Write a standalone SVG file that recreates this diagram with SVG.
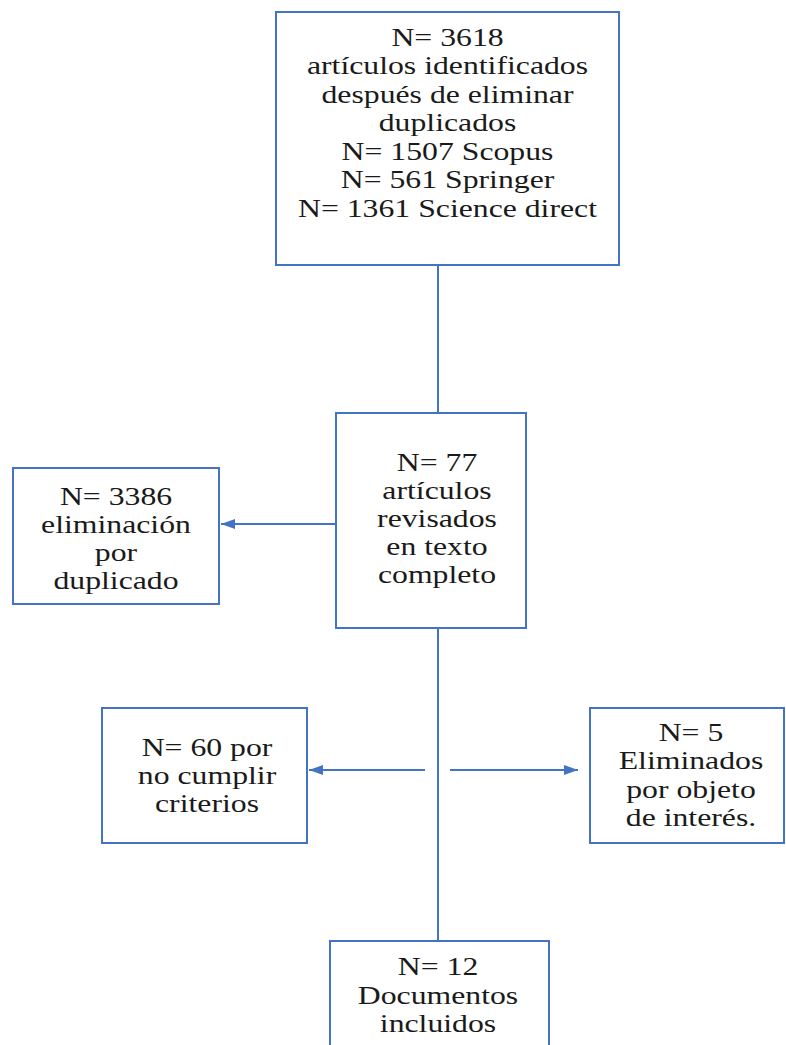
<svg xmlns="http://www.w3.org/2000/svg" width="786" height="1045" viewBox="0 0 786 1045">
<style>
.box{fill:#ffffff;stroke:#4472C4;stroke-width:2}
.con{stroke:#4472C4;stroke-width:2;fill:none}
.t{font-family:"Liberation Serif","Times New Roman",serif;font-size:25px;fill:#1a1a1a;text-anchor:middle}
</style>
<defs>
<marker id="ah" markerUnits="userSpaceOnUse" markerWidth="16" markerHeight="12" refX="14" refY="5" orient="auto">
<path d="M0,0 L14,5 L0,10 Z" fill="#4472C4"/>
</marker>
</defs>
<rect width="786" height="1045" fill="#ffffff"/>
<g id="connectors">
<line class="con" x1="438" y1="265" x2="438" y2="413"/>
<line class="con" x1="336" y1="524" x2="221" y2="524" marker-end="url(#ah)"/>
<line class="con" x1="438" y1="628" x2="438" y2="941"/>
<line class="con" x1="425" y1="770" x2="309" y2="770" marker-end="url(#ah)"/>
<line class="con" x1="450" y1="770" x2="578" y2="770" marker-end="url(#ah)"/>
</g>
<g id="n3618">
<rect class="box" x="276" y="12" width="343" height="253"/>
<g transform="translate(447.5 0) scale(1.27 1)">
<text class="t" x="0" y="46">N= 3618</text>
<text class="t" x="0" y="74.5">artículos identificados</text>
<text class="t" x="0" y="103">después de eliminar</text>
<text class="t" x="0" y="131.5">duplicados</text>
<text class="t" x="0" y="160">N= 1507 Scopus</text>
<text class="t" x="0" y="188.5">N= 561 Springer</text>
<text class="t" x="0" y="217">N= 1361 Science direct</text>
</g>
</g>
<g id="n3386">
<rect class="box" x="13" y="468" width="206" height="136"/>
<g transform="translate(116 0) scale(1.27 1)">
<text class="t" x="0" y="505">N= 3386</text>
<text class="t" x="0" y="533">eliminación</text>
<text class="t" x="0" y="561">por</text>
<text class="t" x="0" y="589">duplicado</text>
</g>
</g>
<g id="n77">
<rect class="box" x="336" y="413" width="190" height="215"/>
<g transform="translate(437 0) scale(1.27 1)">
<text class="t" x="0" y="471">N= 77</text>
<text class="t" x="0" y="499">artículos</text>
<text class="t" x="0" y="527">revisados</text>
<text class="t" x="0" y="555">en texto</text>
<text class="t" x="0" y="583">completo</text>
</g>
</g>
<g id="n60">
<rect class="box" x="102" y="708" width="205" height="135"/>
<g transform="translate(207 0) scale(1.27 1)">
<text class="t" x="0" y="756">N= 60 por</text>
<text class="t" x="0" y="784">no cumplir</text>
<text class="t" x="0" y="812">criterios</text>
</g>
</g>
<g id="n5">
<rect class="box" x="590" y="708" width="194" height="135"/>
<g transform="translate(691 0) scale(1.27 1)">
<text class="t" x="0" y="741">N= 5</text>
<text class="t" x="0" y="769">Eliminados</text>
<text class="t" x="0" y="798">por objeto</text>
<text class="t" x="0" y="826">de interés.</text>
</g>
</g>
<g id="n12">
<rect class="box" x="330" y="941" width="219" height="130"/>
<g transform="translate(438 0) scale(1.27 1)">
<text class="t" x="0" y="975">N= 12</text>
<text class="t" x="0" y="1004">Documentos</text>
<text class="t" x="0" y="1032">incluidos</text>
</g>
</g>
</svg>
